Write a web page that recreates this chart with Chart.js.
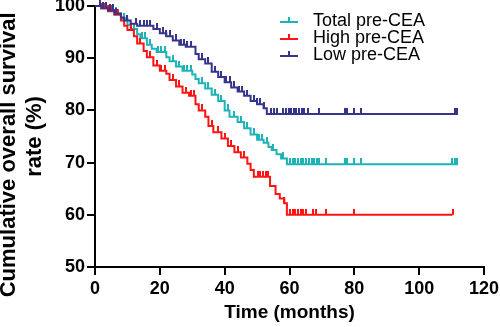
<!DOCTYPE html>
<html lang="en">
<head>
    <meta charset="UTF-8">
    <title>Overall survival by pre-CEA</title>
    <style>
        body {
            margin: 0;
            padding: 0;
            background: #fff;
        }
        #chart {
            display: block;
        }
    </style>
</head>
<body>
    <canvas id="chart" width="500" height="327"></canvas>

    <script src="https://cdn.jsdelivr.net/npm/chart.js"></script>
    <script>
        // series labels
        const seriesNames = ['Total pre-CEA', 'High pre-CEA', 'Low pre-CEA'];
        const seriesColors = ['#1db4b8', '#ff1414', '#36358c'];

        // axis ticks
        const xTicks = [0, 20, 40, 60, 80, 100, 120];
        const yTicks = [50, 60, 70, 80, 90, 100];

        // Kaplan-Meier steps (months, survival %)
        const totalTimes = [0, 2, 4, 6, 8, 10, 11, 13, 14, 16, 17.5, 19, 22, 23, 25, 27, 30, 31, 32, 34, 36, 38, 40, 41.5, 44, 46, 48, 50, 52, 53.5, 54.5, 56, 57.4, 59.2, 112];
        const totalRates = [100, 99.6, 99.2, 98.6, 97.6, 96.4, 95.6, 94.6, 93.8, 92.6, 91.8, 91.2, 90.2, 89.4, 88.4, 87.6, 86.9, 86.0, 85.2, 84.2, 83.0, 81.8, 80.0, 78.8, 77.8, 76.6, 75.4, 74.4, 73.8, 73.0, 72.4, 71.6, 70.8, 69.7, 69.7];

        const highTimes = [0, 2, 4, 6, 8, 9, 10, 12, 13, 15, 16, 18, 20, 22, 23, 25, 27, 29, 31, 32, 34, 35, 36.5, 39, 41, 43, 45, 47, 48, 49, 54, 55.7, 57, 58.4, 59.2, 110.3];
        const highRates = [100, 99.5, 99.0, 98.3, 97.2, 96.2, 95.4, 94.2, 92.8, 91.4, 90.2, 88.6, 87.6, 87.0, 85.8, 84.6, 83.4, 82.8, 81.2, 80.0, 78.8, 77.0, 75.8, 74.6, 73.2, 72.0, 71.0, 69.8, 68.6, 67.3, 65.5, 64.0, 63.1, 62.2, 60.0, 60.0];

        const lowTimes = [0, 2, 4, 6, 8, 9, 11, 13, 18, 20, 22, 24, 26, 28, 31, 32, 34, 36, 38, 40, 42, 44, 46, 48, 50, 52, 53, 112];
        const lowRates = [100, 99.6, 99.2, 98.5, 97.8, 97.2, 96.6, 96.2, 95.6, 94.8, 94.2, 93.4, 92.6, 92.2, 90.8, 89.8, 89.0, 87.4, 86.4, 85.4, 84.4, 83.6, 82.8, 81.8, 81.2, 80.4, 79.3, 79.3];

        // censored observations (months)
        const totalCensored = [1.5, 2.5, 3.5, 4.5, 5.5, 6.5, 9, 12, 14.5, 15.5, 17, 19.5, 20.5, 21.5, 24, 26, 27.5, 28.5, 29.5, 33, 35, 37, 39, 41, 43, 45, 47, 49, 50.5, 51.5, 53, 55, 58, 60.2, 61.0, 61.8, 62.6, 63.5, 64.3, 65.1, 66.0, 66.8, 67.6, 68.4, 69.1, 71.2, 77.0, 77.8, 80.0, 82.1, 110.1, 110.9, 111.7];
        const highCensored = [2, 3, 4, 5, 7, 11, 14, 17, 19, 20.5, 21.5, 24, 26, 28, 29.5, 30.5, 33, 36, 38, 40, 42, 44, 46, 50.2, 51.0, 51.8, 52.7, 53.5, 58.4, 60.2, 61.0, 61.8, 62.6, 63.5, 64.3, 65.1, 67.1, 68.1, 71.2, 80.0, 110.3];
        const lowCensored = [1.5, 2.5, 3.5, 4.5, 5.5, 6.5, 10, 12.5, 14, 15, 16, 17, 19, 21, 22, 23, 25, 26.5, 27.5, 28.5, 29.5, 33, 35, 37, 39, 40.5, 41.5, 43, 44.5, 45.5, 47, 49, 50, 51, 52, 54.3, 55.2, 56.0, 58.0, 58.9, 59.7, 60.5, 61.3, 62.1, 63.0, 63.8, 64.6, 65.8, 69.1, 77.0, 77.8, 80.0, 82.1, 110.9, 111.7];

        const FONT = '"Liberation Sans", Arial, sans-serif';

        function steps(times, rates) {
            return times.map((t, i) => ({ x: t, y: rates[i] }));
        }

        // survival value in force at time t
        function rateAt(times, rates, t) {
            let v = rates[0];
            for (let i = 0; i < times.length; i++) {
                if (times[i] <= t) v = rates[i];
            }
            return v;
        }

        function censorPoints(cens, times, rates) {
            return cens.map(t => ({ x: t, y: rateAt(times, rates, t) }));
        }

        // small upward tick used as censor marker
        function tickMark(color) {
            const c = document.createElement('canvas');
            c.width = 2;
            c.height = 12;
            const g = c.getContext('2d');
            g.fillStyle = color;
            g.fillRect(0, 0, 2, 6);
            return c;
        }

        const curves = [
            [totalTimes, totalRates, totalCensored],
            [highTimes, highRates, highCensored],
            [lowTimes, lowRates, lowCensored]
        ];

        const datasets = [];
        curves.forEach((c, i) => {
            datasets.push({
                label: seriesNames[i],
                data: steps(c[0], c[1]),
                borderColor: seriesColors[i],
                borderWidth: 2,
                stepped: true,
                pointRadius: 0,
                fill: false,
                clip: false,
                order: 3 - i
            });
        });
        curves.forEach((c, i) => {
            datasets.push({
                label: seriesNames[i] + ' censored',
                data: censorPoints(c[2], c[0], c[1]),
                showLine: false,
                pointStyle: tickMark(seriesColors[i]),
                pointRadius: 3,
                clip: false,
                order: 3 - i
            });
        });

        // legend drawn inside the plot, top right
        const kmLegend = {
            id: 'kmLegend',
            afterDraw(chart) {
                const ctx = chart.ctx;
                ctx.save();
                ctx.font = '18px ' + FONT;
                ctx.textBaseline = 'middle';
                for (let i = 0; i < 3; i++) {
                    const ds = chart.data.datasets[i];
                    const y = 21 + i * 17;
                    ctx.strokeStyle = ds.borderColor;
                    ctx.lineWidth = 2;
                    ctx.beginPath();
                    ctx.moveTo(280, y + 1);
                    ctx.lineTo(298, y + 1);
                    ctx.moveTo(289, y + 1);
                    ctx.lineTo(289, y - 4);
                    ctx.stroke();
                    ctx.fillStyle = '#000';
                    ctx.fillText(ds.label, 313, y);
                }
                ctx.restore();
            }
        };

        const axisCommon = {
            border: { display: true, color: '#000', width: 2 },
            grid: { drawOnChartArea: false, drawTicks: true, tickLength: 8, color: '#000', lineWidth: 2 }
        };

        new Chart(document.getElementById('chart'), {
            type: 'line',
            data: { datasets: datasets },
            options: {
                responsive: false,
                animation: false,
                layout: { padding: { top: 6, right: 16, left: 0, bottom: 0 } },
                plugins: {
                    legend: { display: false },
                    tooltip: { enabled: false }
                },
                scales: {
                    x: {
                        ...axisCommon,
                        type: 'linear',
                        min: 0,
                        max: 120,
                        afterBuildTicks: s => { s.ticks = xTicks.map(v => ({ value: v })); },
                        afterFit: s => { s.height = 60; s.paddingLeft = 0; s.paddingRight = 0; },
                        ticks: {
                            color: '#000',
                            padding: 3,
                            maxRotation: 0,
                            font: { family: FONT, size: 18, weight: 'bold' }
                        },
                        title: {
                            display: true,
                            text: 'Time (months)',
                            color: '#000',
                            padding: { bottom: 3 },
                            font: { family: FONT, size: 19, weight: 'bold' }
                        }
                    },
                    y: {
                        ...axisCommon,
                        min: 50,
                        max: 100,
                        afterBuildTicks: s => { s.ticks = yTicks.map(v => ({ value: v })); },
                        afterFit: s => { s.width = 95; s.paddingTop = 0; s.paddingBottom = 0; },
                        ticks: {
                            color: '#000',
                            padding: 2,
                            font: { family: FONT, size: 18, weight: 'bold' }
                        },
                        title: {
                            display: true,
                            text: ['Cumulative overall survival      ', 'rate (%)'],
                            color: '#000',
                            padding: { top: -4 },
                            font: { family: FONT, size: 22, weight: 'bold', lineHeight: '26px' }
                        }
                    }
                }
            },
            plugins: [kmLegend]
        });
    </script>
</body>
</html>
